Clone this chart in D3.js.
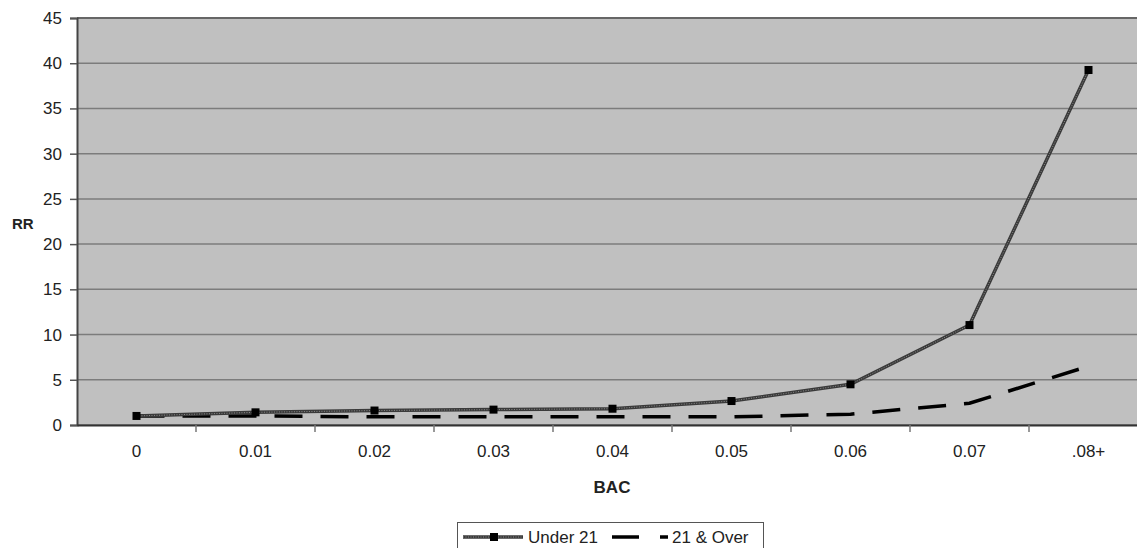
<!DOCTYPE html>
<html><head><meta charset="utf-8">
<script src="https://cdn.jsdelivr.net/npm/d3@7"></script>
<style>body{margin:0;background:#fff}svg{display:block}text{font-family:"Liberation Sans",Arial,sans-serif;fill:#222}</style>
</head><body>
<svg id="c" width="1137" height="548"></svg>
<script>
const categories = ["0","0.01","0.02","0.03","0.04","0.05","0.06","0.07",".08+"];
const under21 = [1.0,1.4,1.6,1.7,1.8,2.65,4.5,11.05,39.25];
const over21 = [1.0,1.0,0.9,0.9,0.9,0.9,1.2,2.4,6.5];
const yTicks = [0,5,10,15,20,25,30,35,40,45];

const svg = d3.select("#c");
const L=77, T=18, R=1148, B=425;
const x = d3.scaleBand().domain(categories).range([L,R]);
const y = d3.scaleLinear().domain([0,45]).range([B,T]);
const cx = d => x(d)+x.bandwidth()/2;

svg.append("rect").attr("x",L).attr("y",T).attr("width",R-L).attr("height",B-T).attr("fill","#c0c0c0");
svg.append("g").selectAll("line").data(yTicks).join("line")
  .attr("x1",L).attr("x2",R).attr("y1",d=>y(d)).attr("y2",d=>y(d))
  .attr("stroke","#7c7c7c").attr("stroke-width",1.5);
svg.append("line").attr("x1",L).attr("x2",R).attr("y1",T).attr("y2",T).attr("stroke","#666").attr("stroke-width",2);

// y axis
const ya = svg.append("g").attr("transform",`translate(${L},0)`)
  .call(d3.axisLeft(y).tickValues(yTicks).tickSize(7).tickPadding(8));
ya.select(".domain").attr("stroke","#444").attr("stroke-width",2);
ya.selectAll(".tick line").attr("stroke","#555").attr("stroke-width",1.5);
ya.selectAll("text").style("font-size","17px").attr("fill","#333");

// x axis
const xa = svg.append("g").attr("transform",`translate(0,${B})`)
  .call(d3.axisBottom(x).tickSize(0).tickPadding(20));
xa.select(".domain").attr("stroke","#333").attr("stroke-width",2);
xa.selectAll("text").style("font-size","17px").attr("fill","#333");
svg.append("g").selectAll("line").data(categories.slice(1)).join("line")
  .attr("x1",d=>x(d)).attr("x2",d=>x(d)).attr("y1",B).attr("y2",B+7)
  .attr("stroke","#777").attr("stroke-width",1.5);

// lines
const line = d3.line().x((d,i)=>cx(categories[i])).y(d=>y(d));
svg.append("path").datum(over21).attr("d",line).attr("fill","none")
  .attr("stroke","#000").attr("stroke-width",3.5).attr("stroke-dasharray","28,18");
svg.append("path").datum(under21).attr("d",line).attr("fill","none")
  .attr("stroke","#3a3a3a").attr("stroke-width",3.5);
svg.append("path").datum(under21).attr("d",line).attr("fill","none")
  .attr("stroke","#8a8a8a").attr("stroke-width",1).attr("stroke-dasharray","1,1.5");
svg.append("g").selectAll("rect").data(under21).join("rect")
  .attr("x",(d,i)=>cx(categories[i])-4).attr("y",d=>y(d)-4).attr("width",8).attr("height",8).attr("fill","#000");

// axis titles
svg.append("text").attr("x",612).attr("y",493).attr("text-anchor","middle").style("font-size","17px").style("font-weight","bold").text("BAC");
svg.append("text").attr("x",12).attr("y",229).style("font-size","15px").style("font-weight","bold").text("RR");

// legend
const lg = svg.append("g");
lg.append("rect").attr("x",457.5).attr("y",522.5).attr("width",306).attr("height",30).attr("fill","#fff").attr("stroke","#555");
lg.append("line").attr("x1",463).attr("x2",523).attr("y1",537).attr("y2",537).attr("stroke","#3a3a3a").attr("stroke-width",3.5);
lg.append("line").attr("x1",463).attr("x2",523).attr("y1",537).attr("y2",537).attr("stroke","#8a8a8a").attr("stroke-width",1).attr("stroke-dasharray","1,1.5");
lg.append("rect").attr("x",490).attr("y",533).attr("width",8).attr("height",8).attr("fill","#000");
lg.append("text").attr("x",528).attr("y",543).style("font-size","17px").text("Under 21");
lg.append("line").attr("x1",612).attr("x2",668).attr("y1",537).attr("y2",537).attr("stroke","#000").attr("stroke-width",3.5).attr("stroke-dasharray","27,21");
lg.append("text").attr("x",672).attr("y",543).style("font-size","17px").text("21 & Over");
</script>
</body></html>
